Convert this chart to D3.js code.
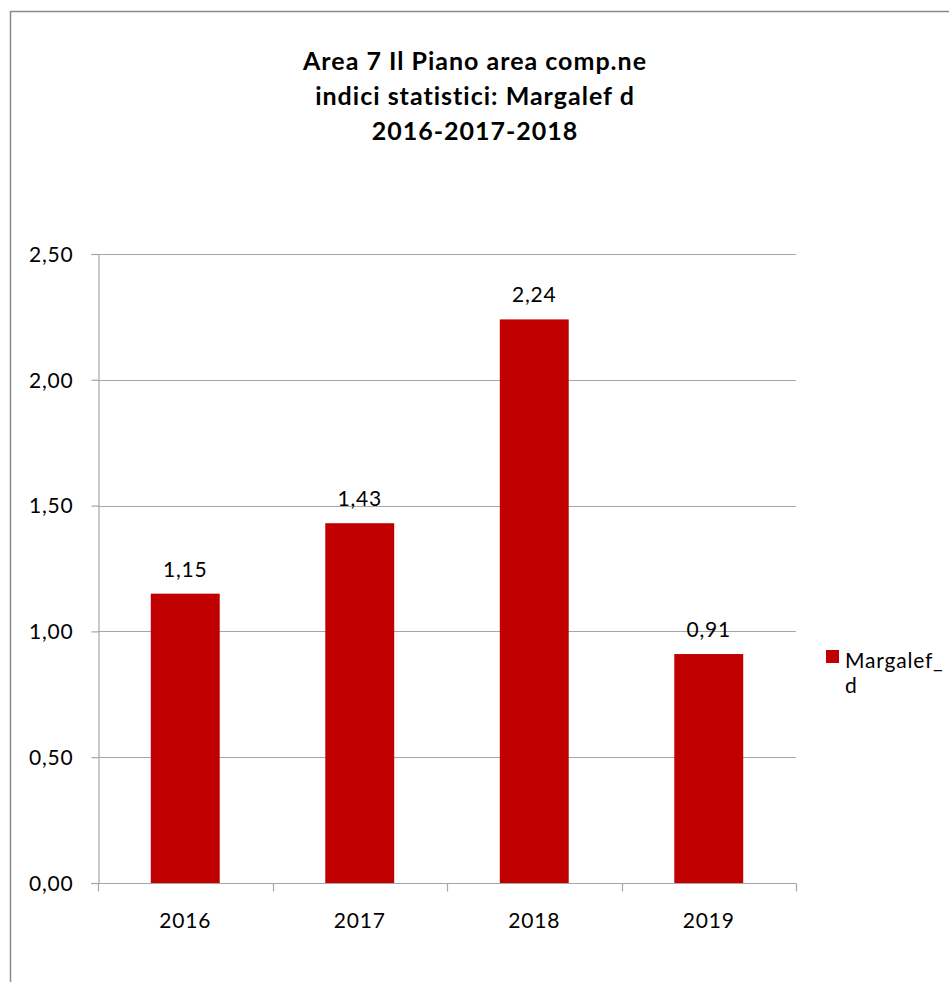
<!DOCTYPE html>
<html><head><meta charset="utf-8">
<script src="https://cdn.jsdelivr.net/npm/d3@7"></script>
<style>body{margin:0;background:#fff}svg{display:block}text{font-family:Lato,"Open Sans",sans-serif}</style>
</head><body>
<script>
const titleLines = ["Area 7 Il Piano area comp.ne", "indici statistici: Margalef d", "2016-2017-2018"];
const categories = ["2016", "2017", "2018", "2019"];
const values = [1.15, 1.43, 2.24, 0.91];
const yTicks = [0, 0.5, 1.0, 1.5, 2.0, 2.5];
const seriesName = ["Margalef_", "d"];

const W = 949, H = 982;
const FS = 21, LS = 0.8;
const svg = d3.select("body").append("svg").attr("width", W).attr("height", H);
svg.append("rect").attr("width", W).attr("height", H).attr("fill", "#fff");
// outer chart border (extends beyond the window)
svg.append("rect").attr("x", 10.5).attr("y", 11.5).attr("width", 960).attr("height", 1000)
  .attr("fill", "none").attr("stroke", "#8a8a8a").attr("stroke-width", 1.5);

const m = {left: 98, right: 796, top: 254, bottom: 883};
const x = d3.scaleBand().domain(categories).range([m.left, m.right]).paddingInner(0).paddingOuter(0);
const y = d3.scaleLinear().domain([0, 2.5]).range([m.bottom, m.top]);
const fmt = v => d3.format(".2f")(v).replace(".", ",");

// gridlines
svg.append("g").selectAll("line").data(yTicks.filter(d => d > 0)).join("line")
  .attr("x1", m.left).attr("x2", m.right)
  .attr("y1", d => Math.round(y(d)) + 0.5).attr("y2", d => Math.round(y(d)) + 0.5)
  .attr("stroke", "#a6a6a6").attr("stroke-width", 1.2);

// bars
const barW = x.bandwidth() * 0.395;
svg.append("g").selectAll("rect").data(values).join("rect")
  .attr("x", (d, i) => x(categories[i]) + x.bandwidth() / 2 - barW / 2)
  .attr("width", barW)
  .attr("y", d => y(d)).attr("height", d => y(0) - y(d))
  .attr("fill", "#c00000");

// value labels
svg.append("g").selectAll("text").data(values).join("text")
  .attr("x", (d, i) => x(categories[i]) + x.bandwidth() / 2)
  .attr("y", d => y(d) - 17)
  .attr("text-anchor", "middle").attr("font-size", FS).attr("letter-spacing", LS).attr("fill", "#000")
  .text(d => fmt(d));

// y axis
const yAxis = svg.append("g").attr("transform", `translate(${m.left + 0.5},0)`)
  .call(d3.axisLeft(y).tickValues(yTicks).tickSize(7).tickPadding(18).tickFormat(fmt));
yAxis.select(".domain").attr("stroke", "#a6a6a6").attr("stroke-width", 1.2);
yAxis.selectAll(".tick line").attr("stroke", "#a6a6a6").attr("stroke-width", 1.2);
yAxis.selectAll(".tick text").attr("font-size", FS).attr("letter-spacing", LS).attr("fill", "#000")
  .attr("font-family", "Lato, 'Open Sans', sans-serif").attr("dy", "0.35em");

// x axis
const xAxis = svg.append("g").attr("transform", `translate(0,${m.bottom + 0.5})`);
xAxis.append("line").attr("x1", m.left - 7).attr("x2", m.right).attr("stroke", "#a6a6a6").attr("stroke-width", 1.2);
const bounds = categories.map(c => x(c)).concat([m.right]);
xAxis.selectAll(".tk").data(bounds).join("line").attr("class", "tk")
  .attr("x1", d => Math.round(d) + 0.5).attr("x2", d => Math.round(d) + 0.5)
  .attr("y1", 0).attr("y2", 8).attr("stroke", "#a6a6a6").attr("stroke-width", 1.2);
xAxis.selectAll("text").data(categories).join("text")
  .attr("x", d => x(d) + x.bandwidth() / 2).attr("y", 44)
  .attr("text-anchor", "middle").attr("font-size", FS).attr("letter-spacing", LS).attr("fill", "#000").text(d => d);

// title
svg.append("g").selectAll("text").data(titleLines).join("text")
  .attr("x", 475).attr("y", (d, i) => 70 + i * 35)
  .attr("text-anchor", "middle").attr("font-size", 25).attr("letter-spacing", 1).attr("font-weight", "bold").attr("fill", "#000")
  .text(d => d);

// legend
svg.append("rect").attr("x", 826).attr("y", 650).attr("width", 13).attr("height", 13).attr("fill", "#c00000");
svg.append("g").selectAll("text").data(seriesName).join("text")
  .attr("x", 845).attr("y", (d, i) => 668 + i * 25)
  .attr("font-size", FS).attr("letter-spacing", LS).attr("fill", "#000").text(d => d);
</script>
</body></html>
